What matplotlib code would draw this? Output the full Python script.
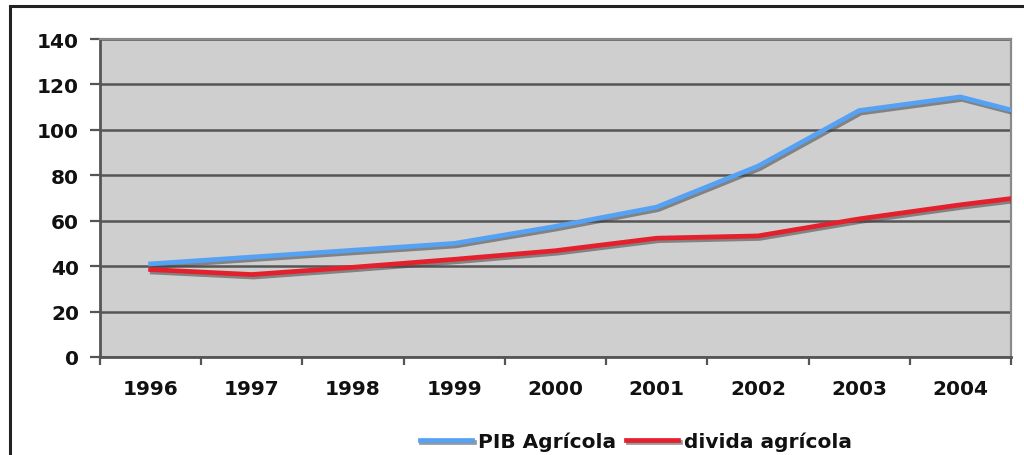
import matplotlib
matplotlib.use("Agg")
import matplotlib.pyplot as plt
import matplotlib.patheffects as pe
from matplotlib.patches import Rectangle
import numpy as np

years = ["1996", "1997", "1998", "1999", "2000", "2001", "2002", "2003", "2004", "2005"]
pib_agricola = [41, 44, 47, 50, 57.5, 66, 84, 108.5, 114.5, 103]
divida_agricola = [38.5, 36.3, 39.5, 43, 46.8, 52.3, 53.3, 60.8, 67, 72.5]
yticks = [0, 20, 40, 60, 80, 100, 120, 140]

plt.rcParams['font.family'] = ['DejaVu Sans']

fig = plt.figure(figsize=(10.24, 4.56), dpi=100)
fig.patch.set_facecolor("white")

# outer chart frame (extends beyond the image right and bottom)
fig.patches.append(Rectangle((10 / 1024, -0.05), 1.2, 1 - 7 / 456 + 0.05,
                             transform=fig.transFigure, fill=False,
                             edgecolor="#222222", linewidth=2.2, zorder=0))

ax = fig.add_axes([100 / 1024, 1 - 358 / 456, 911 / 1024, 318 / 456])
ax.set_facecolor("#cfcfcf")

x = np.arange(len(years))
shadow = [pe.SimpleLineShadow(offset=(1.2, -1.8), shadow_color="#444444", alpha=0.55), pe.Normal()]
l1, = ax.plot(x, pib_agricola, color="#55a2f5", linewidth=3.4, solid_joinstyle="miter",
              path_effects=shadow, zorder=3, label="PIB Agrícola")
l2, = ax.plot(x, divida_agricola, color="#e3202b", linewidth=3.4, solid_joinstyle="miter",
              path_effects=shadow, zorder=3, label="divida agrícola")

n_shown = 9  # categories visible on the axis (last point is cut at the plot edge)
ax.set_xticks(x[:n_shown])
ax.set_xticklabels(years[:n_shown])
ax.set_xticks(np.arange(-0.5, n_shown, 1.0), minor=True)
ax.set_xlim(-0.5, n_shown - 0.5)
ax.set_ylim(0, 140)
ax.set_yticks(yticks)
ax.yaxis.grid(True, color="#555555", linewidth=1.8)
ax.set_axisbelow(True)

ax.tick_params(axis="x", which="major", length=0, pad=16, labelsize=14.5, labelcolor="#111111")
ax.tick_params(axis="x", which="minor", length=6, width=1.6, color="#555555")
ax.tick_params(axis="y", length=7, width=1.6, color="#555555", pad=8, labelsize=14.5,
               labelcolor="#111111")
for lab in ax.get_xticklabels() + ax.get_yticklabels():
    lab.set_fontweight("bold")

for side in ["left", "bottom"]:
    ax.spines[side].set_color("#555555")
    ax.spines[side].set_linewidth(2)
for side in ["right", "top"]:
    ax.spines[side].set_color("#8a8a8a")
    ax.spines[side].set_linewidth(1.6)

leg = fig.legend(handles=[l1, l2], loc="center", bbox_to_anchor=(636 / 1024, 1 - 442 / 456),
                 ncol=2, frameon=False, prop={"size": 14.5, "weight": "bold"},
                 handlelength=2.6, handletextpad=0.3,
                 columnspacing=0.5, borderpad=0, labelcolor="#111111")

fig.savefig("out.png", dpi=100, facecolor="white")
